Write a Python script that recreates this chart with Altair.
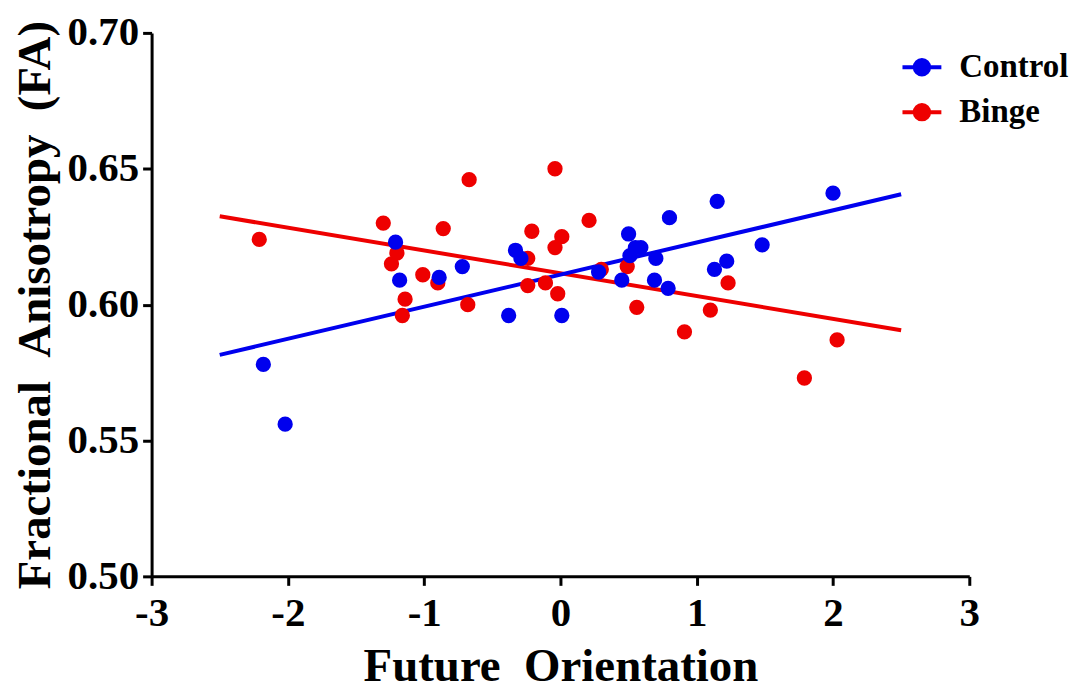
import altair as alt
import pandas as pd

# Control group (blue)
ctrl_x = [-2.18, -2.02, -1.21, -1.18, -0.89, -0.72, -0.38, -0.33, -0.29, 0.01,
          0.28, 0.45, 0.50, 0.51, 0.55, 0.59, 0.70, 0.69, 0.79, 0.80,
          1.13, 1.15, 1.22, 1.48, 2.00]
ctrl_y = [0.578, 0.556, 0.623, 0.609, 0.610, 0.614, 0.596, 0.620, 0.617, 0.596,
          0.612, 0.609, 0.626, 0.618, 0.621, 0.621, 0.617, 0.609, 0.606, 0.632,
          0.613, 0.638, 0.616, 0.622, 0.641]

# Binge group (red)
binge_x = [-2.21, -1.30, -1.20, -1.24, -0.86, -1.01, -0.90, -1.14, -1.16, -0.67,
           -0.68, -0.04, -0.21, -0.24, 0.01, -0.04, 0.21, 0.30, 0.49, -0.24,
           -0.11, -0.02, 0.56, 0.91, 1.10, 1.23, 1.79, 2.03]
binge_y = [0.624, 0.630, 0.619, 0.615, 0.628, 0.611, 0.608, 0.602, 0.596, 0.646,
           0.600, 0.650, 0.627, 0.617, 0.625, 0.621, 0.631, 0.613, 0.614, 0.607,
           0.608, 0.604, 0.599, 0.590, 0.598, 0.608, 0.573, 0.587]

# Regression line end points
fit_x = [-2.5, 2.5]
ctrl_fit = [0.5815, 0.6406]
binge_fit = [0.6325, 0.5906]

groups = ["Control", "Binge"]
colors = ["#0000ee", "#ee0000"]

x_ticks = [-3, -2, -1, 0, 1, 2, 3]
y_ticks = [0.50, 0.55, 0.60, 0.65, 0.70]

points = pd.DataFrame(
    [{"group": "Binge", "x": a, "y": b} for a, b in zip(binge_x, binge_y)]
    + [{"group": "Control", "x": a, "y": b} for a, b in zip(ctrl_x, ctrl_y)]
)
lines = pd.DataFrame(
    [{"group": "Binge", "x": a, "y": b} for a, b in zip(fit_x, binge_fit)]
    + [{"group": "Control", "x": a, "y": b} for a, b in zip(fit_x, ctrl_fit)]
)

FONT = "Liberation Serif"
SP = "\u00a0\u00a0"

xenc = alt.X("x:Q", scale=alt.Scale(domain=[-3, 3], nice=False, zero=False),
             axis=alt.Axis(values=x_ticks, title="Future" + SP + "Orientation",
                           labelExpr="datum.value < 0 ? '-' + abs(datum.value) : '' + datum.value",
                           labelFlush=False, titlePadding=10, labelPadding=8))
yenc = alt.Y("y:Q", scale=alt.Scale(domain=[0.5, 0.7], nice=False, zero=False),
             axis=alt.Axis(values=y_ticks, format=".2f", labelFlush=False,
                           title="Fractional" + SP + "Anisotropy" + SP + "(FA)",
                           titlePadding=8, labelPadding=4))

cscale = alt.Scale(domain=groups, range=colors)
symbol_path = ("M-1,0L1,0M-0.37,0A0.37,0.37 0 1,1 0.37,0"
               "A0.37,0.37 0 1,1 -0.37,0Z")
legend = alt.Legend(title=None, orient="none", legendX=751, legendY=13,
                    symbolType=symbol_path, symbolSize=1521, symbolStrokeWidth=4,
                    labelFont=FONT, labelFontWeight="bold", labelFontSize=33,
                    labelColor="black", labelOffset=16, rowPadding=6, padding=0,
                    labelLimit=200)

line_layer = alt.Chart(lines).mark_line(strokeWidth=4).encode(
    x=xenc, y=yenc,
    stroke=alt.Stroke("group:N", scale=cscale, legend=legend),
)
point_layer = alt.Chart(points).mark_circle(size=235, opacity=1, strokeWidth=0).encode(
    x=xenc, y=yenc,
    fill=alt.Fill("group:N", scale=cscale, legend=legend),
    stroke=alt.Stroke("group:N", scale=cscale, legend=legend),
)

chart = alt.layer(line_layer, point_layer).properties(
    width=820, height=545,
    autosize=alt.AutoSizeParams(type="none"),
    padding={"left": 144, "top": 24, "right": 104, "bottom": 114},
).configure_view(stroke=None).configure_axis(
    grid=False,
    domainColor="black", domainWidth=3,
    tickColor="black", tickWidth=3, tickSize=9,
    labelFont=FONT, labelFontWeight="bold", labelFontSize=41, labelColor="black",
    titleFont=FONT, titleFontWeight="bold", titleFontSize=47, titleColor="black",
)

chart.save("out.html", embed_options={"renderer": "svg", "actions": False})
